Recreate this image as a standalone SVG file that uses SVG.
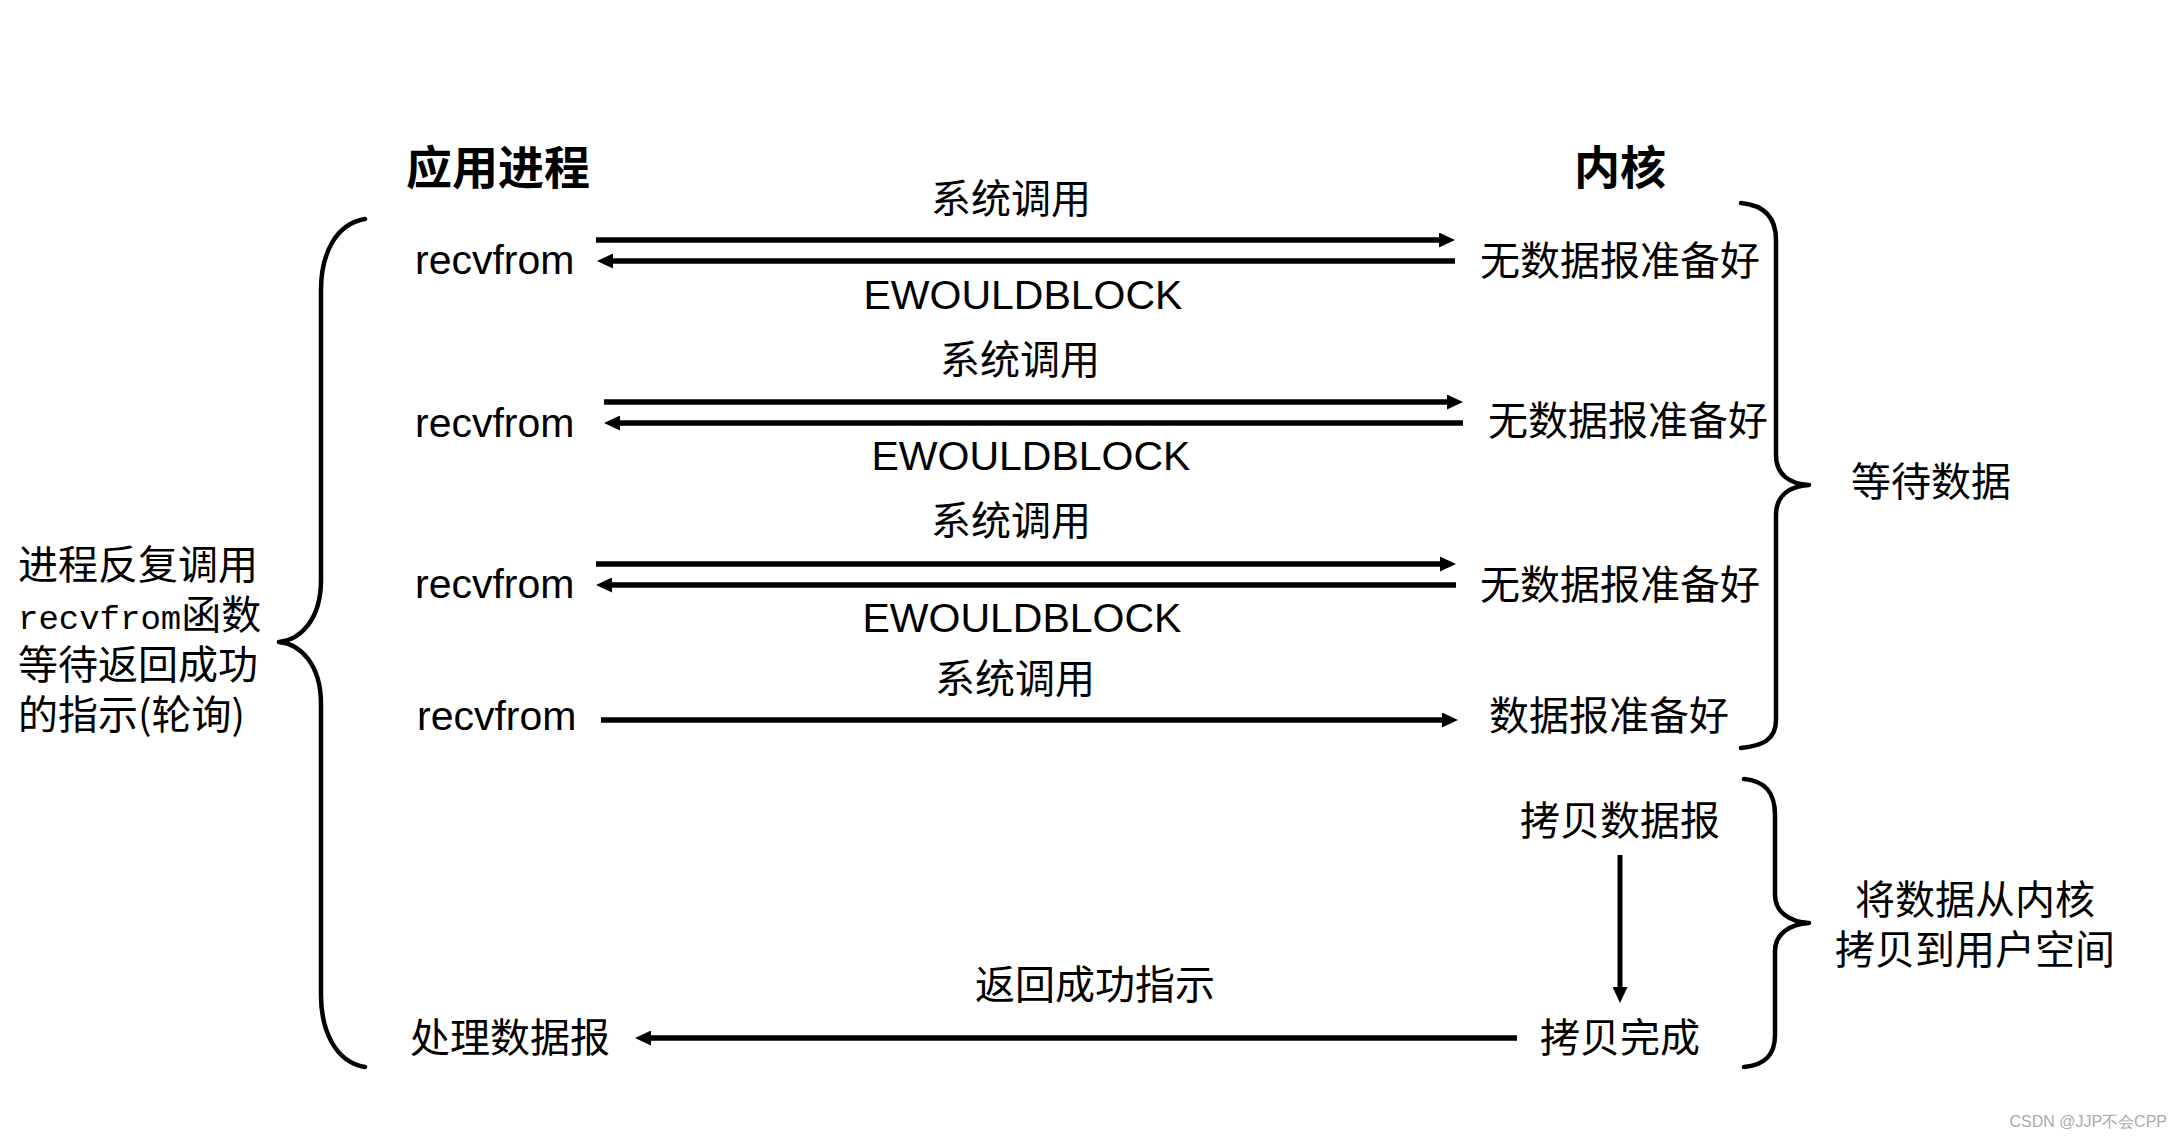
<svg xmlns="http://www.w3.org/2000/svg" width="2184" height="1138" viewBox="0 0 2184 1138">
<style>
.t{font-family:"Liberation Sans","Noto Sans CJK SC",sans-serif;font-size:41px;fill:#000}
.c{font-family:"Noto Sans CJK SC","Liberation Sans",sans-serif;font-size:40px;fill:#000}
.m{text-anchor:middle}
.h{font-family:"Noto Sans CJK SC",sans-serif;font-size:46px;font-weight:bold;fill:#000}
.ln{stroke:#000;stroke-width:5.5;fill:none}
.br{stroke:#000;stroke-width:4.5;fill:none;stroke-linecap:round;stroke-linejoin:round}
</style>
<defs>
<marker id="ah" markerUnits="userSpaceOnUse" markerWidth="16" markerHeight="15" refX="6" refY="7.5" orient="auto">
<path d="M0,0 L16,7.5 L0,15 z" fill="#000"/>
</marker>
</defs>
<rect width="2184" height="1138" fill="#fff"/>
<g id="titles">
<text class="h m" x="498" y="184">应用进程</text>
<text class="h m" x="1620" y="184">内核</text>
</g>
<g id="left-note">
<text class="c" x="18" y="579">进程反复调用<tspan x="18" dy="50" font-family="Liberation Mono,monospace" font-size="34">recvfrom</tspan><tspan>函数</tspan><tspan x="18" dy="50">等待返回成功</tspan><tspan x="18" dy="50">的指示(轮询)</tspan></text>
</g>
<g id="app-nodes">
<text class="t" x="415" y="274">recvfrom</text>
<text class="t" x="415" y="437">recvfrom</text>
<text class="t" x="415" y="598">recvfrom</text>
<text class="t" x="417" y="730">recvfrom</text>
<text class="c m" x="510" y="1052">处理数据报</text>
</g>
<g id="kernel-nodes">
<text class="c m" x="1620" y="275">无数据报准备好</text>
<text class="c m" x="1628" y="435">无数据报准备好</text>
<text class="c m" x="1620" y="599">无数据报准备好</text>
<text class="c m" x="1609" y="730">数据报准备好</text>
<text class="c m" x="1620" y="835">拷贝数据报</text>
<text class="c m" x="1620" y="1052">拷贝完成</text>
</g>
<g id="phase-labels">
<text class="c m" x="1931" y="496">等待数据</text>
<text class="c m" x="1975" y="914">将数据从内核</text>
<text class="c m" x="1975" y="964">拷贝到用户空间</text>
</g>
<g id="connector-labels">
<text class="c m" x="1011" y="213">系统调用</text>
<text class="t m" x="1023" y="309">EWOULDBLOCK</text>
<text class="c m" x="1020" y="374">系统调用</text>
<text class="t m" x="1031" y="470">EWOULDBLOCK</text>
<text class="c m" x="1011" y="535">系统调用</text>
<text class="t m" x="1022" y="632">EWOULDBLOCK</text>
<text class="c m" x="1015" y="693">系统调用</text>
<text class="c m" x="1095" y="999">返回成功指示</text>
</g>
<g id="connectors">
<line class="ln" x1="596" y1="240" x2="1445" y2="240" marker-end="url(#ah)"/>
<line class="ln" x1="1455" y1="261" x2="607" y2="261" marker-end="url(#ah)"/>
<line class="ln" x1="604" y1="402" x2="1453" y2="402" marker-end="url(#ah)"/>
<line class="ln" x1="1463" y1="423" x2="614" y2="423" marker-end="url(#ah)"/>
<line class="ln" x1="596" y1="564" x2="1446" y2="564" marker-end="url(#ah)"/>
<line class="ln" x1="1456" y1="585" x2="606" y2="585" marker-end="url(#ah)"/>
<line class="ln" x1="601" y1="720" x2="1448" y2="720" marker-end="url(#ah)"/>
<line class="ln" x1="1620" y1="855" x2="1620" y2="993" marker-end="url(#ah)" style="stroke-width:5"/>
<line class="ln" x1="1517" y1="1038" x2="645" y2="1038" marker-end="url(#ah)"/>
</g>
<g id="braces">
<path class="br" d="M365,219 C335,224 321,255 321,290 L321,580 C321,620 300,640 279,642 C300,644 321,664 321,704 L321,995 C321,1030 335,1062 365,1067"/>
<path class="br" d="M1741,203 C1762,205 1776,215 1776,240 L1776,455 C1776,475 1790,484 1809,485 C1790,486 1776,495 1776,515 L1776,720 C1776,740 1762,746 1741,748"/>
<path class="br" d="M1744,779 C1765,781 1775,792 1775,815 L1775,895 C1775,912 1790,922 1809,923 C1790,924 1775,934 1775,951 L1775,1035 C1775,1055 1765,1065 1744,1067"/>
</g>
<text x="2167" y="1127" font-family="Liberation Sans,sans-serif" font-size="16" fill="#aaa" text-anchor="end">CSDN @JJP不会CPP</text>
</svg>
